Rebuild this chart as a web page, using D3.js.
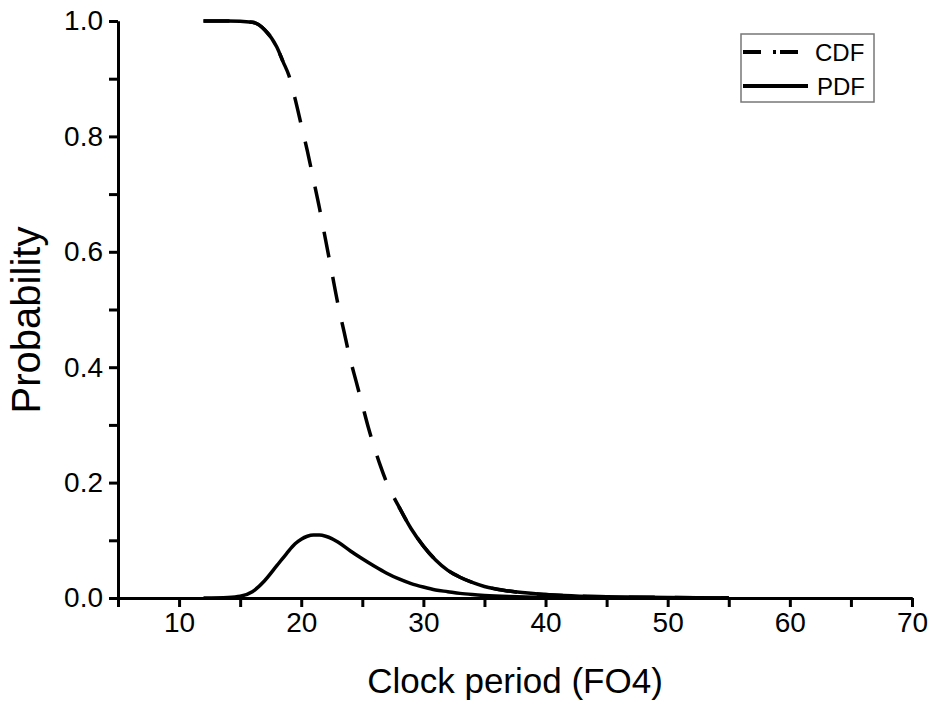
<!DOCTYPE html>
<html>
<head>
<meta charset="utf-8">
<script src="https://cdn.jsdelivr.net/npm/d3@7"></script>
<style>
  body { margin: 0; background: #fff; }
  text { font-family: "Liberation Sans", Arial, sans-serif; fill: #000; }
</style>
</head>
<body>
<script>
// clock period (FO4) sample points
const cdfX = [12, 14, 16, 17, 18, 18.5, 19, 19.5, 20, 20.5, 21, 21.5, 22, 22.5, 23, 23.5, 24, 24.5, 25, 25.5, 26, 26.5, 27, 27.5, 28, 29, 30, 31, 32, 33, 34, 35, 37, 40, 45, 50, 55];
const cdfY = [1.0, 1.0, 0.998, 0.985, 0.955, 0.93, 0.905, 0.865, 0.82, 0.775, 0.725, 0.675, 0.62, 0.565, 0.51, 0.462, 0.415, 0.375, 0.335, 0.295, 0.26, 0.228, 0.2, 0.178, 0.158, 0.12, 0.09, 0.066, 0.048, 0.036, 0.027, 0.02, 0.012, 0.006, 0.002, 0.001, 0];

const pdfX = [12, 14, 15, 16, 17, 18, 18.8, 19.5, 20, 20.5, 21, 21.5, 22, 22.5, 23, 24, 25, 26, 27, 28, 29, 30, 31, 32, 33, 34, 35, 37, 40, 45, 50, 55];
const pdfY = [0, 0.001, 0.003, 0.011, 0.03, 0.056, 0.077, 0.094, 0.102, 0.107, 0.109, 0.109, 0.107, 0.103, 0.097, 0.082, 0.068, 0.055, 0.043, 0.033, 0.025, 0.019, 0.014, 0.011, 0.008, 0.006, 0.0045, 0.0025, 0.001, 0.0003, 0.0001, 0];

const xMajor = [10, 20, 30, 40, 50, 60, 70];
const xMinor = [5, 15, 25, 35, 45, 55, 65];
const yMajor = [0, 0.2, 0.4, 0.6, 0.8, 1.0];
const yMinor = [0.1, 0.3, 0.5, 0.7, 0.9];
const seriesNames = ["CDF", "PDF"];

const W = 930, H = 702;
const x = d3.scaleLinear().domain([5, 70]).range([118, 912]);
const y = d3.scaleLinear().domain([0, 1]).range([598, 21]);

const svg = d3.select("body").append("svg")
  .attr("width", W)
  .attr("height", H);

// axes
svg.append("g")
  .attr("transform", `translate(0,${y(0)})`)
  .call(d3.axisBottom(x).tickValues(xMajor).tickSize(9).tickSizeOuter(0).tickPadding(5));
svg.append("g")
  .attr("transform", `translate(0,${y(0)})`)
  .call(d3.axisBottom(x).tickValues(xMinor).tickSize(9).tickSizeOuter(0).tickFormat(""));

svg.append("g")
  .attr("transform", `translate(${x(5)},0)`)
  .call(d3.axisLeft(y).tickValues(yMajor).tickSize(9).tickSizeOuter(0).tickPadding(6).tickFormat(d3.format(".1f")));
svg.append("g")
  .attr("transform", `translate(${x(5)},0)`)
  .call(d3.axisLeft(y).tickValues(yMinor).tickSize(9).tickSizeOuter(0).tickFormat(""));

svg.selectAll(".domain, .tick line")
  .attr("stroke", "#000")
  .attr("stroke-width", 3);
svg.selectAll(".tick text")
  .style("font-size", "28px")
  .style("font-family", "Liberation Sans, Arial, sans-serif");

// axis titles
svg.append("text")
  .attr("x", 515)
  .attr("y", 693)
  .attr("text-anchor", "middle")
  .style("font-size", "35px")
  .text("Clock period (FO4)");

svg.append("text")
  .attr("transform", `translate(40,320) rotate(-90)`)
  .attr("text-anchor", "middle")
  .style("font-size", "40px")
  .text("Probability");

// curves
const cdf = cdfX.map((d, i) => ({x: d, y: cdfY[i]}));
const pdf = pdfX.map((d, i) => ({x: d, y: pdfY[i]}));

const line = d3.line()
  .x(d => x(d.x))
  .y(d => y(d.y))
  .curve(d3.curveMonotoneX);

svg.append("path")
  .datum(pdf)
  .attr("fill", "none")
  .attr("stroke", "#000")
  .attr("stroke-width", 3.5)
  .attr("d", line);

// CDF: dashed in the middle, solid head and tail
svg.append("path")
  .datum(cdf)
  .attr("fill", "none")
  .attr("stroke", "#000")
  .attr("stroke-width", 3.5)
  .attr("stroke-dasharray", "26,20")
  .attr("d", line);
svg.append("path")
  .datum(cdf.filter(d => d.x <= 18.5))
  .attr("fill", "none")
  .attr("stroke", "#000")
  .attr("stroke-width", 3.5)
  .attr("d", line);
svg.append("path")
  .datum(cdf.filter(d => d.x >= 28))
  .attr("fill", "none")
  .attr("stroke", "#000")
  .attr("stroke-width", 3.5)
  .attr("d", line);

// legend
const lg = svg.append("g");
lg.append("rect")
  .attr("x", 741).attr("y", 34)
  .attr("width", 133).attr("height", 68)
  .attr("fill", "#fff")
  .attr("stroke", "#777")
  .attr("stroke-width", 1.5);

const dashes = ["18,12,3,4,18", null];
seriesNames.forEach((name, i) => {
  const ly = 52 + i * 34;
  lg.append("line")
    .attr("x1", 743).attr("x2", i === 0 ? 798 : 808)
    .attr("y1", ly).attr("y2", ly)
    .attr("stroke", "#000")
    .attr("stroke-width", 4)
    .attr("stroke-dasharray", dashes[i]);
  lg.append("text")
    .attr("x", 815 + i * 2)
    .attr("y", ly + 9)
    .style("font-size", "24px")
    .text(name);
});
</script>
</body>
</html>
